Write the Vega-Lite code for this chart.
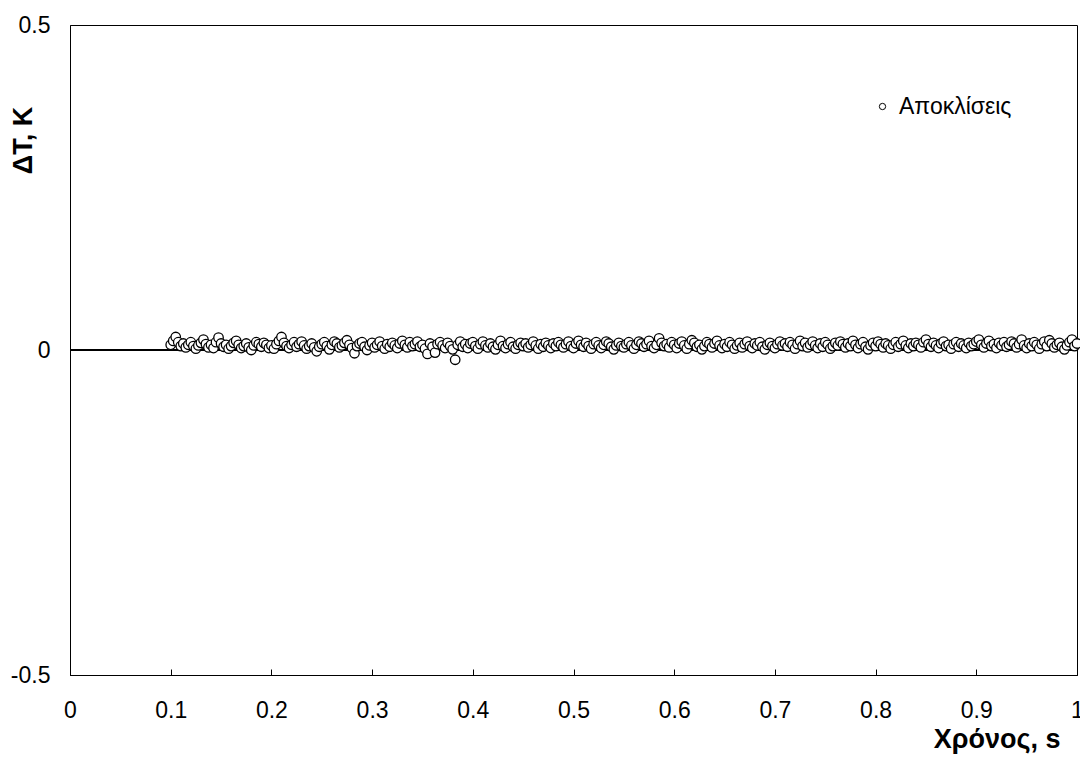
{
"$schema": "https://vega.github.io/schema/vega-lite/v6.json",
"width": 1007,
"height": 650,
"autosize": {"type": "none"},
"padding": {"left": 70, "top": 25, "right": 3, "bottom": 83},
"background": "white",
"config": {
  "font": "Liberation Sans",
  "view": {"stroke": "black", "strokeWidth": 1},
  "axis": {"grid": false, "domainColor": "black", "domainWidth": 1, "labelColor": "black", "titleColor": "black", "labelFont": "Liberation Sans", "titleFont": "Liberation Sans", "labelFontSize": 23, "titleFontSize": 27, "titleFontWeight": "bold", "tickColor": "black"}
},
"data": {"values": [
{"t":0.1,"d":0.008},{"t":0.1025,"d":0.014},{"t":0.105,"d":0.020},{"t":0.1075,"d":0.012},{"t":0.11,"d":0.006},{"t":0.1125,"d":0.010},{"t":0.115,"d":0.004},{"t":0.1175,"d":0.008},{"t":0.12,"d":0.012},{"t":0.1225,"d":0.006},{"t":0.125,"d":0.002},{"t":0.1275,"d":0.007},{"t":0.13,"d":0.011},{"t":0.1325,"d":0.016},{"t":0.135,"d":0.009},{"t":0.1375,"d":0.004},{"t":0.14,"d":0.008},{"t":0.1425,"d":0.003},{"t":0.145,"d":0.012},{"t":0.1475,"d":0.019},
{"t":0.15,"d":0.010},{"t":0.1525,"d":0.005},{"t":0.155,"d":0.008},{"t":0.1575,"d":0.002},{"t":0.16,"d":0.006},{"t":0.1625,"d":0.011},{"t":0.165,"d":0.014},{"t":0.1675,"d":0.008},{"t":0.17,"d":0.003},{"t":0.1725,"d":0.006},{"t":0.175,"d":0.010},{"t":0.1775,"d":0.004},{"t":0.18,"d":0.000},{"t":0.1825,"d":0.007},{"t":0.185,"d":0.012},{"t":0.1875,"d":0.009},{"t":0.19,"d":0.005},{"t":0.1925,"d":0.011},{"t":0.195,"d":0.008},{"t":0.1975,"d":0.003},
{"t":0.2,"d":0.007},{"t":0.2025,"d":0.002},{"t":0.205,"d":0.009},{"t":0.2075,"d":0.014},{"t":0.21,"d":0.020},{"t":0.2125,"d":0.011},{"t":0.215,"d":0.006},{"t":0.2175,"d":0.003},{"t":0.22,"d":0.008},{"t":0.2225,"d":0.012},{"t":0.225,"d":0.005},{"t":0.2275,"d":0.009},{"t":0.23,"d":0.013},{"t":0.2325,"d":0.007},{"t":0.235,"d":0.002},{"t":0.2375,"d":0.006},{"t":0.24,"d":0.010},{"t":0.2425,"d":0.004},{"t":0.245,"d":-0.002},{"t":0.2475,"d":0.005},
{"t":0.25,"d":0.009},{"t":0.2525,"d":0.012},{"t":0.255,"d":0.006},{"t":0.2575,"d":0.001},{"t":0.26,"d":0.008},{"t":0.2625,"d":0.013},{"t":0.265,"d":0.010},{"t":0.2675,"d":0.004},{"t":0.27,"d":0.007},{"t":0.2725,"d":0.011},{"t":0.275,"d":0.015},{"t":0.2775,"d":0.008},{"t":0.28,"d":0.003},{"t":0.2825,"d":-0.005},{"t":0.285,"d":0.006},{"t":0.2875,"d":0.010},{"t":0.29,"d":0.012},{"t":0.2925,"d":0.005},{"t":0.295,"d":0.000},{"t":0.2975,"d":0.007},
{"t":0.3,"d":0.011},{"t":0.3025,"d":0.004},{"t":0.305,"d":0.008},{"t":0.3075,"d":0.013},{"t":0.31,"d":0.006},{"t":0.3125,"d":0.002},{"t":0.315,"d":0.009},{"t":0.3175,"d":0.005},{"t":0.32,"d":0.011},{"t":0.3225,"d":0.007},{"t":0.325,"d":0.003},{"t":0.3275,"d":0.010},{"t":0.33,"d":0.014},{"t":0.3325,"d":0.008},{"t":0.335,"d":0.004},{"t":0.3375,"d":0.012},{"t":0.34,"d":0.006},{"t":0.3425,"d":0.009},{"t":0.345,"d":0.013},{"t":0.3475,"d":0.005},
{"t":0.35,"d":0.008},{"t":0.3525,"d":0.002},{"t":0.355,"d":-0.006},{"t":0.3575,"d":0.010},{"t":0.36,"d":0.005},{"t":0.3625,"d":-0.004},{"t":0.365,"d":0.009},{"t":0.3675,"d":0.012},{"t":0.37,"d":0.007},{"t":0.3725,"d":0.003},{"t":0.375,"d":0.011},{"t":0.3775,"d":0.006},{"t":0.38,"d":0.001},{"t":0.3825,"d":-0.015},{"t":0.385,"d":0.008},{"t":0.3875,"d":0.013},{"t":0.39,"d":0.005},{"t":0.3925,"d":0.009},{"t":0.395,"d":0.003},{"t":0.3975,"d":0.010},
{"t":0.4,"d":0.012},{"t":0.4025,"d":0.006},{"t":0.405,"d":0.002},{"t":0.4075,"d":0.009},{"t":0.41,"d":0.013},{"t":0.4125,"d":0.007},{"t":0.415,"d":0.004},{"t":0.4175,"d":0.010},{"t":0.42,"d":0.005},{"t":0.4225,"d":0.001},{"t":0.425,"d":0.008},{"t":0.4275,"d":0.014},{"t":0.43,"d":0.006},{"t":0.4325,"d":0.003},{"t":0.435,"d":0.009},{"t":0.4375,"d":0.012},{"t":0.44,"d":0.005},{"t":0.4425,"d":0.002},{"t":0.445,"d":0.008},{"t":0.4475,"d":0.011},
{"t":0.45,"d":0.006},{"t":0.4525,"d":0.010},{"t":0.455,"d":0.004},{"t":0.4575,"d":0.008},{"t":0.46,"d":0.013},{"t":0.4625,"d":0.007},{"t":0.465,"d":0.002},{"t":0.4675,"d":0.009},{"t":0.47,"d":0.005},{"t":0.4725,"d":0.011},{"t":0.475,"d":0.007},{"t":0.4775,"d":0.003},{"t":0.48,"d":0.010},{"t":0.4825,"d":0.006},{"t":0.485,"d":0.012},{"t":0.4875,"d":0.008},{"t":0.49,"d":0.004},{"t":0.4925,"d":0.009},{"t":0.495,"d":0.013},{"t":0.4975,"d":0.006},
{"t":0.5,"d":0.003},{"t":0.5025,"d":0.010},{"t":0.505,"d":0.014},{"t":0.5075,"d":0.008},{"t":0.51,"d":0.005},{"t":0.5125,"d":0.011},{"t":0.515,"d":0.006},{"t":0.5175,"d":0.002},{"t":0.52,"d":0.009},{"t":0.5225,"d":0.012},{"t":0.525,"d":0.007},{"t":0.5275,"d":0.003},{"t":0.53,"d":0.008},{"t":0.5325,"d":0.013},{"t":0.535,"d":0.010},{"t":0.5375,"d":0.005},{"t":0.54,"d":0.001},{"t":0.5425,"d":0.007},{"t":0.545,"d":0.011},{"t":0.5475,"d":0.006},
{"t":0.55,"d":0.004},{"t":0.5525,"d":0.009},{"t":0.555,"d":0.012},{"t":0.5575,"d":0.007},{"t":0.56,"d":0.002},{"t":0.5625,"d":0.008},{"t":0.565,"d":0.013},{"t":0.5675,"d":0.010},{"t":0.57,"d":0.005},{"t":0.5725,"d":0.009},{"t":0.575,"d":0.014},{"t":0.5775,"d":0.006},{"t":0.58,"d":0.003},{"t":0.5825,"d":0.008},{"t":0.585,"d":0.018},{"t":0.5875,"d":0.011},{"t":0.59,"d":0.006},{"t":0.5925,"d":0.009},{"t":0.595,"d":0.004},{"t":0.5975,"d":0.012},
{"t":0.6,"d":0.008},{"t":0.6025,"d":0.003},{"t":0.605,"d":0.010},{"t":0.6075,"d":0.013},{"t":0.61,"d":0.007},{"t":0.6125,"d":0.002},{"t":0.615,"d":0.009},{"t":0.6175,"d":0.015},{"t":0.62,"d":0.011},{"t":0.6225,"d":0.005},{"t":0.625,"d":0.008},{"t":0.6275,"d":0.001},{"t":0.63,"d":0.006},{"t":0.6325,"d":0.012},{"t":0.635,"d":0.009},{"t":0.6375,"d":0.004},{"t":0.64,"d":0.010},{"t":0.6425,"d":0.014},{"t":0.645,"d":0.007},{"t":0.6475,"d":0.003},
{"t":0.65,"d":0.009},{"t":0.6525,"d":0.005},{"t":0.655,"d":0.012},{"t":0.6575,"d":0.008},{"t":0.66,"d":0.002},{"t":0.6625,"d":0.007},{"t":0.665,"d":0.011},{"t":0.6675,"d":0.004},{"t":0.67,"d":0.009},{"t":0.6725,"d":0.013},{"t":0.675,"d":0.006},{"t":0.6775,"d":0.003},{"t":0.68,"d":0.010},{"t":0.6825,"d":0.007},{"t":0.685,"d":0.012},{"t":0.6875,"d":0.005},{"t":0.69,"d":0.001},{"t":0.6925,"d":0.008},{"t":0.695,"d":0.011},{"t":0.6975,"d":0.006},
{"t":0.7,"d":0.003},{"t":0.7025,"d":0.009},{"t":0.705,"d":0.013},{"t":0.7075,"d":0.007},{"t":0.71,"d":0.010},{"t":0.7125,"d":0.005},{"t":0.715,"d":0.012},{"t":0.7175,"d":0.008},{"t":0.72,"d":0.002},{"t":0.7225,"d":0.009},{"t":0.725,"d":0.014},{"t":0.7275,"d":0.006},{"t":0.73,"d":0.011},{"t":0.7325,"d":0.004},{"t":0.735,"d":0.008},{"t":0.7375,"d":0.013},{"t":0.74,"d":0.007},{"t":0.7425,"d":0.003},{"t":0.745,"d":0.010},{"t":0.7475,"d":0.005},
{"t":0.75,"d":0.012},{"t":0.7525,"d":0.008},{"t":0.755,"d":0.002},{"t":0.7575,"d":0.006},{"t":0.76,"d":0.011},{"t":0.7625,"d":0.007},{"t":0.765,"d":0.013},{"t":0.7675,"d":0.009},{"t":0.77,"d":0.004},{"t":0.7725,"d":0.010},{"t":0.775,"d":0.006},{"t":0.7775,"d":0.014},{"t":0.78,"d":0.008},{"t":0.7825,"d":0.003},{"t":0.785,"d":0.009},{"t":0.7875,"d":0.012},{"t":0.79,"d":0.005},{"t":0.7925,"d":0.001},{"t":0.795,"d":0.007},{"t":0.7975,"d":0.011},
{"t":0.8,"d":0.006},{"t":0.8025,"d":0.013},{"t":0.805,"d":0.009},{"t":0.8075,"d":0.004},{"t":0.81,"d":0.010},{"t":0.8125,"d":0.007},{"t":0.815,"d":0.002},{"t":0.8175,"d":0.008},{"t":0.82,"d":0.012},{"t":0.8225,"d":0.005},{"t":0.825,"d":0.009},{"t":0.8275,"d":0.014},{"t":0.83,"d":0.007},{"t":0.8325,"d":0.003},{"t":0.835,"d":0.010},{"t":0.8375,"d":0.006},{"t":0.84,"d":0.011},{"t":0.8425,"d":0.008},{"t":0.845,"d":0.004},{"t":0.8475,"d":0.012},
{"t":0.85,"d":0.016},{"t":0.8525,"d":0.009},{"t":0.855,"d":0.005},{"t":0.8575,"d":0.011},{"t":0.86,"d":0.007},{"t":0.8625,"d":0.003},{"t":0.865,"d":0.010},{"t":0.8675,"d":0.013},{"t":0.87,"d":0.006},{"t":0.8725,"d":0.008},{"t":0.875,"d":0.002},{"t":0.8775,"d":0.009},{"t":0.88,"d":0.012},{"t":0.8825,"d":0.005},{"t":0.885,"d":0.010},{"t":0.8875,"d":0.007},{"t":0.89,"d":0.003},{"t":0.8925,"d":0.011},{"t":0.895,"d":0.006},{"t":0.8975,"d":0.009},
{"t":0.9,"d":0.013},{"t":0.9025,"d":0.016},{"t":0.905,"d":0.008},{"t":0.9075,"d":0.004},{"t":0.91,"d":0.010},{"t":0.9125,"d":0.014},{"t":0.915,"d":0.006},{"t":0.9175,"d":0.009},{"t":0.92,"d":0.003},{"t":0.9225,"d":0.011},{"t":0.925,"d":0.007},{"t":0.9275,"d":0.012},{"t":0.93,"d":0.005},{"t":0.9325,"d":0.008},{"t":0.935,"d":0.013},{"t":0.9375,"d":0.010},{"t":0.94,"d":0.004},{"t":0.9425,"d":0.009},{"t":0.945,"d":0.016},{"t":0.9475,"d":0.007},
{"t":0.95,"d":0.003},{"t":0.9525,"d":0.010},{"t":0.955,"d":0.006},{"t":0.9575,"d":0.012},{"t":0.96,"d":0.008},{"t":0.9625,"d":0.002},{"t":0.965,"d":0.009},{"t":0.9675,"d":0.013},{"t":0.97,"d":0.006},{"t":0.9725,"d":0.015},{"t":0.975,"d":0.010},{"t":0.9775,"d":0.004},{"t":0.98,"d":0.008},{"t":0.9825,"d":0.011},{"t":0.985,"d":0.005},{"t":0.9875,"d":0.001},{"t":0.99,"d":0.007},{"t":0.9925,"d":0.012},{"t":0.995,"d":0.016},{"t":0.9975,"d":0.006},
{"t":1.0,"d":0.010}
]},
"layer": [
  {
    "mark": {"type": "rule", "color": "black", "strokeWidth": 1},
    "encoding": {"y": {"datum": 0, "type": "quantitative"}}
  },
  {
    "mark": {"type": "point", "shape": "circle", "filled": true, "fill": "white", "size": 90, "strokeWidth": 1.3, "opacity": 1},
    "encoding": {
      "x": {"field": "t", "type": "quantitative", "scale": {"domain": [0, 1], "nice": false},
        "axis": {"values": [0,0.1,0.2,0.3,0.4,0.5,0.6,0.7,0.8,0.9,1], "labelExpr": "toString(datum.value)", "tickSize": -6, "labelPadding": 30, "labelFlush": false, "labelOverlap": false, "title": "Χρόνος, s", "titleAnchor": "end", "titleAlign": "right", "titleX": 990, "titleY": 72, "titleBaseline": "alphabetic"}},
      "y": {"field": "d", "type": "quantitative", "scale": {"domain": [-0.5, 0.5], "nice": false, "zero": false},
        "axis": {"values": [-0.5, 0, 0.5], "labelExpr": "toString(datum.value)", "ticks": false, "labelPadding": 20, "labelFlush": false, "labelOverlap": false, "title": "ΔT, K", "titleAngle": -90, "titleAlign": "center", "titleBaseline": "middle", "titleX": -47, "titleY": 115}},
      "stroke": {"datum": "Αποκλίσεις", "type": "nominal", "scale": {"range": ["black"]},
        "legend": {"title": null, "orient": "none", "legendX": 801, "legendY": 70, "padding": 0, "symbolType": "circle", "symbolSize": 40, "symbolFillColor": "white", "symbolStrokeWidth": 1, "labelFontSize": 23, "labelFont": "Liberation Sans", "labelColor": "black", "labelOffset": 5}}
    }
  }
]
}
